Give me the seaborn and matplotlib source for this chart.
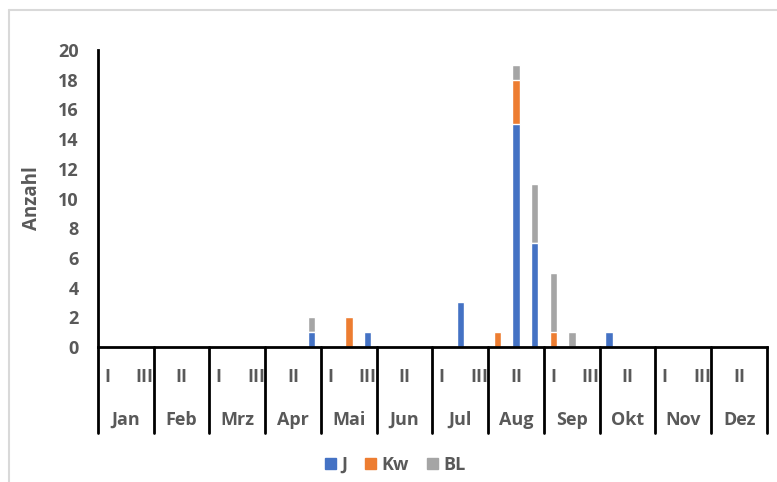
"""Stacked bars of counts per month decade (I, II, III)."""
import seaborn as sns
import pandas as pd
from matplotlib import pyplot as plt
from matplotlib.patches import Patch
from matplotlib.lines import Line2D
import matplotlib.transforms as mtransforms

months = ['Jan', 'Feb', 'Mrz', 'Apr', 'Mai', 'Jun',
          'Jul', 'Aug', 'Sep', 'Okt', 'Nov', 'Dez']
decades = ['I', 'II', 'III']

# one value per decade, 3 per month
J = [0, 0, 0,  0, 0, 0,  0, 0, 0,  0, 0, 1,  0, 0, 1,  0, 0, 0,
     0, 3, 0,  0, 15, 7,  0, 0, 0,  1, 0, 0,  0, 0, 0,  0, 0, 0]
Kw = [0, 0, 0,  0, 0, 0,  0, 0, 0,  0, 0, 0,  0, 2, 0,  0, 0, 0,
      0, 0, 0,  1, 3, 0,  1, 0, 0,  0, 0, 0,  0, 0, 0,  0, 0, 0]
BL = [0, 0, 0,  0, 0, 0,  0, 0, 0,  0, 0, 1,  0, 0, 0,  0, 0, 0,
      0, 0, 0,  0, 1, 4,  4, 1, 0,  0, 0, 0,  0, 0, 0,  0, 0, 0]

colors = {'J': '#4472C4', 'Kw': '#ED7D31', 'BL': '#A5A5A5'}
text_color = '#595959'
fs = 13

slots = [f'{m}-{d}' for m in months for d in decades]
df = pd.DataFrame({'slot': slots, 'J': J, 'Kw': Kw, 'BL': BL})
df['J_Kw'] = df['J'] + df['Kw']
df['total'] = df['J_Kw'] + df['BL']

sns.set_style('white')
plt.rcParams['font.family'] = ['Open Sans', 'DejaVu Sans']
plt.rcParams['font.weight'] = 'bold'

fig = plt.figure(figsize=(7.77, 4.82), dpi=100)
ax = fig.add_axes([98 / 777, 1 - 347 / 482, (767 - 98) / 777, (347 - 50) / 482])

# stack by overlaying cumulative totals
for col, name in [('total', 'BL'), ('J_Kw', 'Kw'), ('J', 'J')]:
    sns.barplot(data=df, x='slot', y=col, order=slots, color=colors[name],
                width=0.4, errorbar=None, saturation=1, ax=ax)

ax.set_ylim(0, 20)
ax.set_xlim(-0.5, len(slots) - 0.5)
ax.set_yticks(range(0, 21, 2))
ax.set_xticks([])
ax.set_xlabel('')
ax.set_ylabel('Anzahl', fontsize=13.5, fontweight='bold', color=text_color)
ax.yaxis.set_label_coords(-0.083, 0.5)
ax.tick_params(axis='y', length=0, pad=14, labelsize=fs, labelcolor=text_color)
for lab in ax.get_yticklabels():
    lab.set_fontweight('bold')

for side in ['top', 'right']:
    ax.spines[side].set_visible(False)
for side in ['left', 'bottom']:
    ax.spines[side].set_color('black')
    ax.spines[side].set_linewidth(2)

# two-level category axis drawn by hand
trans = mtransforms.blended_transform_factory(ax.transData, ax.transAxes)
sep_bottom = -(433 - 347) / 297
for k in range(len(months) + 1):
    ax.add_line(Line2D([3 * k - 0.5, 3 * k - 0.5], [0, sep_bottom], color='black',
                       lw=2, transform=trans, clip_on=False, zorder=5))
for i, m in enumerate(months):
    ax.text(3 * i + 1, -(420 - 347) / 297, m, transform=trans, ha='center',
            va='center', fontsize=fs, fontweight='bold', color=text_color)
    shown = [0, 2] if i % 2 == 0 else [1]
    for d in shown:
        ax.text(3 * i + d, -(377 - 347) / 297, decades[d], transform=trans,
                ha='center', va='center', fontsize=fs, fontweight='bold',
                color=text_color)

handles = [Patch(color=colors[n], label=n) for n in ['J', 'Kw', 'BL']]
leg = fig.legend(handles=handles, loc='center', ncol=3, frameon=False,
                 bbox_to_anchor=(395 / 777, 1 - 465 / 482), fontsize=fs,
                 handlelength=0.6, handleheight=0.6, handletextpad=0.3,
                 columnspacing=1.0)
for t in leg.get_texts():
    t.set_color(text_color)
    t.set_fontweight('bold')

# light frame around the chart area
fig.add_artist(Line2D([9 / 777, 9 / 777], [0, 1 - 10 / 482], color='#D9D9D9',
                      lw=1.5, transform=fig.transFigure))
fig.add_artist(Line2D([9 / 777, 1], [1 - 10 / 482, 1 - 10 / 482], color='#D9D9D9',
                      lw=1.5, transform=fig.transFigure))

fig.savefig('out.png', dpi=100)
